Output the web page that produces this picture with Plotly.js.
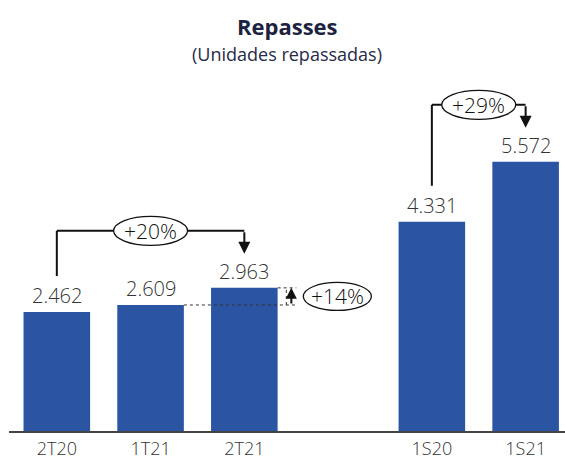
<!DOCTYPE html>
<html>
<head>
<meta charset="utf-8">
<script src="https://cdn.plot.ly/plotly-3.0.1.min.js"></script>
<style>
  html, body { margin: 0; padding: 0; background: #fff; }
  #chart { width: 565px; height: 461px; }
</style>
</head>
<body>
<div id="chart"></div>
<script>
// Repasses por período (unidades)
const categories = ['2T20', '1T21', '2T21', '1S20', '1S21'];
const positions  = [0, 1, 2, 4, 5];
const unidades   = [2462, 2609, 2963, 4331, 5572];

// Comparações desenhadas como colchetes: [índice inicial, índice final]
const colchetes = [[0, 2], [3, 4]];
// Comparação trimestral ao lado das barras
const comparacaoLateral = [1, 2];

const W = 565, H = 461;
const M = { l: 9, r: 0, t: 60, b: 30 };
const plotH = H - M.t - M.b;
const YMAX = 7680;
const k = YMAX / plotH;            // unidades por pixel vertical
const BAR_W = 0.71;
const X_RANGE = [-0.51, 5.42];
const pxPerX = (W - M.l - M.r) / (X_RANGE[1] - X_RANGE[0]);

const barColor = '#2B54A3';
const inkColor = '#111111';
const textColor = '#333333';
const font = 'Open Sans, Noto Sans, sans-serif';

function fmt(v) {
  return String(v).replace(/\B(?=(\d{3})+(?!\d))/g, '.');
}
function pct(a, b) {
  return '+' + Math.round((b / a - 1) * 100) + '%';
}

const shapes = [];
const annotations = [];

// rótulos de valor acima das barras
positions.forEach((x, i) => {
  annotations.push({
    x: x, y: unidades[i], xref: 'x', yref: 'y',
    text: fmt(unidades[i]), showarrow: false,
    yanchor: 'bottom', yshift: 1,
    font: { family: font, size: 20, color: textColor, weight: 300 }
  });
});

// colchetes com variação percentual
colchetes.forEach(([a, b]) => {
  const xa = positions[a], xb = positions[b];
  const topVal = Math.max(...unidades.slice(a, b + 1));
  const yTop = topVal + 57 * k;
  const yStart = unidades[a] + 36 * k;
  const yEnd = unidades[b] + 34 * k;
  shapes.push({ type: 'line', xref: 'x', yref: 'y', x0: xa, x1: xa, y0: yStart, y1: yTop,
    line: { color: inkColor, width: 2 }, layer: 'above' });
  shapes.push({ type: 'line', xref: 'x', yref: 'y', x0: xa, x1: xb, y0: yTop, y1: yTop,
    line: { color: inkColor, width: 2 }, layer: 'above' });
  annotations.push({
    x: xb, y: yEnd, ax: xb, ay: yTop, xref: 'x', yref: 'y', axref: 'x', ayref: 'y',
    text: '', showarrow: true, arrowhead: 2, arrowsize: 1.2, arrowwidth: 2,
    arrowcolor: inkColor, standoff: 0, startstandoff: 0
  });
  const xm = (xa + xb) / 2;
  shapes.push({ type: 'circle', xref: 'x', yref: 'y', xsizemode: 'pixel', ysizemode: 'pixel',
    xanchor: xm, yanchor: yTop, x0: -37, x1: 37, y0: -14.5, y1: 14.5,
    fillcolor: '#ffffff', line: { color: inkColor, width: 1.3 }, layer: 'above' });
  annotations.push({
    x: xm, y: yTop, xref: 'x', yref: 'y', text: pct(unidades[a], unidades[b]),
    showarrow: false, font: { family: font, size: 21, color: inkColor, weight: 300 }
  });
});

// comparação lateral (linhas tracejadas + seta para cima)
(function () {
  const [a, b] = comparacaoLateral;
  const xa = positions[a], xb = positions[b];
  const va = unidades[a], vb = unidades[b];
  const halfPx = BAR_W / 2 * pxPerX;
  const dash = { color: '#333333', width: 1, dash: '3px,3px' };
  shapes.push({ type: 'line', xref: 'x', yref: 'y', xsizemode: 'pixel', xanchor: xa,
    x0: halfPx, x1: (xb - xa) * pxPerX + 52, y0: va, y1: va, line: dash, layer: 'above' });
  shapes.push({ type: 'line', xref: 'x', yref: 'y', xsizemode: 'pixel', xanchor: xb,
    x0: halfPx, x1: 52, y0: vb, y1: vb, line: dash, layer: 'above' });
  shapes.push({ type: 'line', xref: 'x', yref: 'y', xsizemode: 'pixel', xanchor: xb,
    x0: 42, x1: 42, y0: va, y1: vb, line: dash, layer: 'above' });
  annotations.push({
    x: xb, y: vb, ax: xb, ay: va, xref: 'x', yref: 'y', axref: 'x', ayref: 'y', xshift: 47,
    text: '', showarrow: true, arrowhead: 2, arrowsize: 1.1, arrowwidth: 2,
    arrowcolor: inkColor, standoff: 0, startstandoff: 0
  });
  shapes.push({ type: 'circle', xref: 'x', yref: 'y', xsizemode: 'pixel', ysizemode: 'pixel',
    xanchor: xb, yanchor: (va + vb) / 2, x0: 59, x1: 127, y0: -14, y1: 14,
    fillcolor: '#ffffff', line: { color: inkColor, width: 1.3 }, layer: 'above' });
  annotations.push({
    x: xb, y: (va + vb) / 2, xref: 'x', yref: 'y', xshift: 93, text: pct(va, vb),
    showarrow: false, font: { family: font, size: 21, color: inkColor, weight: 300 }
  });
})();

// título e subtítulo
annotations.push({
  x: 0.5, y: 1.0916, xref: 'paper', yref: 'paper', yanchor: 'middle', text: '<b>Repasses</b>',
  showarrow: false, font: { family: font, size: 22, color: '#1c2340' }
});
annotations.push({
  x: 0.5, y: 1.017, xref: 'paper', yref: 'paper', yanchor: 'middle', text: '(Unidades repassadas)',
  showarrow: false, font: { family: font, size: 18, color: '#262b48' }
});

const trace = {
  type: 'bar', x: positions, y: unidades, width: BAR_W,
  marker: { color: barColor, line: { width: 0 } },
  hoverinfo: 'skip'
};

const layout = {
  width: W, height: H, margin: M,
  paper_bgcolor: '#ffffff', plot_bgcolor: '#ffffff',
  showlegend: false,
  xaxis: {
    range: X_RANGE, tickvals: positions, ticktext: categories,
    showgrid: false, zeroline: false, showline: true, linecolor: '#444444', linewidth: 1.5,
    ticks: '', ticklabelstandoff: 1,
    tickfont: { family: font, size: 18, color: textColor, weight: 300 },
    fixedrange: true
  },
  yaxis: { range: [0, YMAX], visible: false, fixedrange: true },
  shapes: shapes,
  annotations: annotations
};

Plotly.newPlot('chart', [trace], layout, { staticPlot: true });
</script>
</body>
</html>
